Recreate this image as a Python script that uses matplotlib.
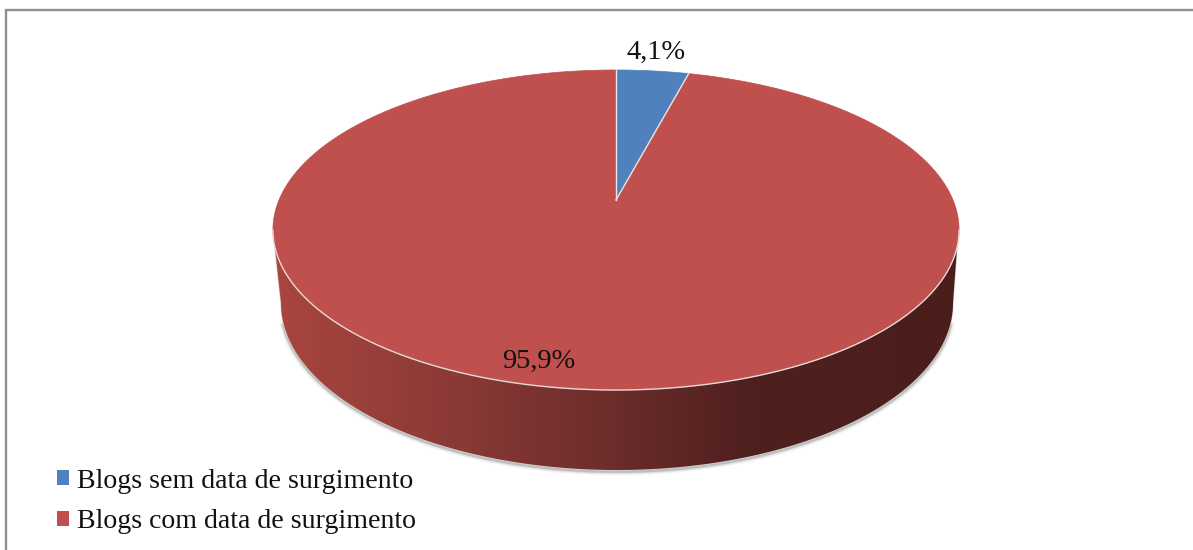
import numpy as np
import matplotlib
matplotlib.use("Agg")
import matplotlib.pyplot as plt
from matplotlib.colors import LinearSegmentedColormap
from matplotlib.patches import Patch, Polygon

categories = ["Blogs sem data de surgimento", "Blogs com data de surgimento"]
shares = [4.1, 95.9]
colors = ["#4F81BD", "#C0504D"]

fig = plt.figure(figsize=(11.93, 5.5), dpi=100)
ax = fig.add_axes([0, 0, 1, 1])
ax.set_xlim(0, 1193)
ax.set_ylim(550, 0)
ax.axis("off")

# frame of the chart area
ax.plot([6, 6, 1193], [550, 10, 10], color="#8F8F8F", lw=1.7, solid_joinstyle="miter")


def top_face(theta):
    # the 3D pie top: unit circle seen in perspective, apex is not the ellipse centre
    k = 0.1875
    s, c = np.sin(theta), np.cos(theta)
    return 616 + 337 * s / (1 + k * c), 200 - 154.4 * c / (1 + k * c)


def lower_rim(x_half=336, y_mid=303, y_half=167):
    t = np.linspace(np.pi, 0, 200)
    return 617 + x_half * np.cos(t), y_mid + y_half * np.sin(t)


# soft shadow under the side wall
rx, ry = lower_rim()
wall_x = np.r_[275, rx, 957]
wall_y = np.r_[248, ry, 248]
for width, alpha in [(6, 0.04), (4.5, 0.07), (3, 0.12), (2, 0.2)]:
    ax.plot(rx[8:-8], ry[8:-8] + 1.5, color="#555555", lw=width, alpha=alpha, zorder=1)
ax.plot(wall_x, wall_y, color="#D8D4D4", lw=1.0, zorder=2)

# side wall with the horizontal gradient
wall = Polygon(np.c_[wall_x, wall_y], closed=True, facecolor="none", edgecolor="none", zorder=3)
ax.add_patch(wall)
wall_cmap = LinearSegmentedColormap.from_list(
    "wall",
    [(0.0, "#A8463F"), (0.25, "#8C3A37"), (0.49, "#6C2D2B"), (0.70, "#4E201E"), (1.0, "#4B1E1C")],
)
grad = ax.imshow(
    np.linspace(0, 1, 512).reshape(1, -1),
    extent=(275, 960, 475, 240),
    cmap=wall_cmap,
    aspect="auto",
    zorder=3,
)
grad.set_clip_path(wall)
ax.set_xlim(0, 1193)
ax.set_ylim(550, 0)

# top face slices
edges = np.r_[0, np.cumsum(shares)] / np.sum(shares) * 2 * np.pi
for start, end, color in zip(edges[:-1], edges[1:], colors):
    x, y = top_face(np.linspace(start, end, 400))
    ax.fill(np.r_[616, x], np.r_[200, y], facecolor=color, edgecolor=color, lw=0.5, zorder=4)

# thin light lines between the slices and along the front rim
for angle in edges[:2]:
    x, y = top_face(np.array([angle]))
    ax.plot([616, x[0]], [200, y[0]], color="#EDE4E4", lw=1.0, zorder=5)
x, y = top_face(np.linspace(0.56 * np.pi, 1.44 * np.pi, 300))
ax.plot(x, y, color="#E4DADA", lw=1.0, zorder=5)

# slice labels
ax.text(656, 52, f"{shares[0]:.1f}%".replace(".", ","), ha="center", va="center",
        family="Liberation Serif", fontsize=20.5, color="#111111", zorder=6)
ax.text(539, 361, f"{shares[1]:.1f}%".replace(".", ","), ha="center", va="center",
        family="Liberation Serif", fontsize=20.5, color="#111111", zorder=6)

handles = [Patch(facecolor=c, edgecolor="none") for c in colors]
ax.legend(
    handles,
    categories,
    loc="lower left",
    bbox_to_anchor=(57 / 1193, 15.5 / 550),
    bbox_transform=fig.transFigure,
    frameon=False,
    prop={"family": "Liberation Serif", "size": 20.1},
    handlelength=0.43,
    handleheight=0.43,
    handletextpad=0.29,
    labelspacing=0.57,
    borderpad=0,
    borderaxespad=0,
    labelcolor="#111111",
)

fig.savefig("out.png", dpi=100)
plt.close(fig)
